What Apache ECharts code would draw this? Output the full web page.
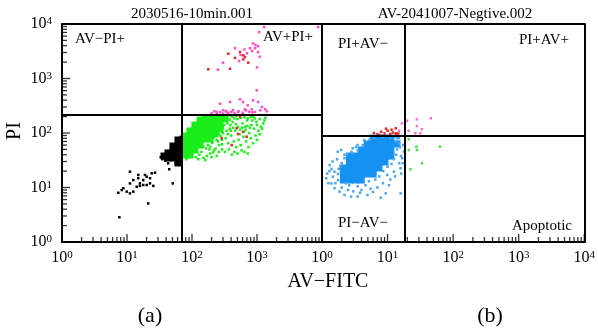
<!DOCTYPE html>
<html>
<head>
<meta charset="utf-8">
<script src="https://cdn.jsdelivr.net/npm/echarts@6/dist/echarts.min.js"></script>
<style>
  html, body { margin: 0; padding: 0; background: #fff; }
  #chart { width: 598px; height: 333px; }
</style>
</head>
<body>
<div id="chart"></div>
<script>
// ---- panel (a): 2030516-10min.001  [AV-FITC, PI] ----
var gateA = [69.5, 214];
var greenCoreA = [
  [78, 88.1], [78, 71.3], [78, 57.7], [78, 46.8], [78, 39.5],
  [93.1, 109], [93.1, 88.1], [93.1, 71.3], [93.1, 57.7], [93.1, 46.8], [93.1, 39.5],
  [111, 140], [111, 114], [111, 91.9], [111, 74.4], [111, 60.2], [111, 48.8],
  [133, 173], [133, 140], [133, 114], [133, 91.9], [133, 74.4], [133, 60.2],
  [158, 181], [158, 146], [158, 118], [158, 96], [158, 77.6],
  [189, 181], [189, 146], [189, 118], [189, 96], [189, 77.6],
  [226, 181], [226, 146], [226, 118], [226, 96],
  [270, 181], [270, 146], [270, 118],
  [322, 181]
];
var greenA = [
  [280, 170], [310, 140], [350, 190], [380, 120], [420, 160], [460, 110], [500, 180], [540, 95],
  [600, 150], [650, 130], [700, 170], [760, 100], [820, 140], [900, 120], [980, 160], [1100, 180],
  [1250, 150], [1350, 190], [300, 100], [330, 80], [360, 65], [400, 90], [440, 70], [480, 55],
  [520, 75], [560, 60], [620, 85], [680, 70], [740, 55], [800, 80], [870, 65], [950, 90],
  [1050, 110], [1150, 130], [260, 60], [290, 50], [320, 45], [370, 50], [410, 40], [450, 45],
  [500, 42], [580, 48], [640, 45], [720, 42], [390, 140], [430, 125], [470, 145], [510, 130],
  [550, 115], [590, 125], [630, 105], [670, 115], [710, 135], [780, 125], [850, 170], [920, 185],
  [1000, 140], [1200, 120], [1300, 170], [560, 190], [640, 195], [720, 185], [800, 195], [880, 200],
  [100, 38], [115, 36], [130, 40], [150, 35], [170, 38], [190, 42], [210, 44], [240, 38],
  [125, 33], [160, 32], [200, 36], [230, 52], [250, 70], [275, 88], [340, 110], [300, 195],
  [420, 200], [480, 205], [380, 175], [450, 185], [1100, 95], [1000, 75],
  [150, 56], [175, 60], [205, 66], [240, 75], [290, 62], [220, 48], [185, 50], [260, 95],
  [300, 125], [350, 150], [400, 205], [330, 170], [245, 130], [215, 82], [165, 52], [140, 45],
  [120, 45], [105, 52], [88, 36], [82, 33], [140, 155], [118, 125], [100, 100], [85, 98],
  [355, 95], [395, 110], [290, 75], [260, 45], [190, 56], [310, 205], [270, 200], [240, 190]
];
var blackCoreA = [
  [60.9, 74.4], [60.9, 57.7], [60.9, 44.8], [60.9, 34.8], [60.9, 28.2],
  [51, 57.7], [51, 44.8], [51, 34.8], [42.7, 43], [42.7, 34.8], [37.1, 37.8]
];
var blackA = [
  [11.1, 19.5], [14.9, 17], [18.9, 17], [24, 18.2], [27, 18.7], [11.1, 11.9], [12.5, 13.7],
  [15.8, 11.9], [17.8, 11.1], [20.1, 11.1], [22.6, 11.9], [25.4, 10.7], [14.1, 10.3], [15.8, 10.7],
  [8.8, 9.7], [8.3, 9.0], [9.9, 8.4], [7.35, 8.0], [11.1, 7.8], [12.5, 8.4], [17.8, 13.7],
  [22.6, 14.8], [20.1, 15.8], [14.9, 14.8], [43, 27.8], [44.6, 21.6], [50.5, 11.9], [21.2, 5.1],
  [7.63, 2.84], [36.3, 39.5], [40.6, 42.4], [47, 45], [52, 38], [55, 33], [58, 30], [64, 29],
  [48, 52], [55, 62], [63, 80], [67, 85], [56, 28], [45, 36], [33, 36], [35, 33], [39, 31]
];
var pinkA = [
  [1290, 8800], [8700, 8800], [1075, 7100], [870, 4400], [950, 4100], [1040, 3900], [780, 3600],
  [930, 3600], [840, 3200], [1040, 3050], [460, 3600], [1100, 2500], [1000, 1600], [300, 1950],
  [250, 1450], [530, 2100], [640, 3400], [700, 2900], [560, 2700],
  [270, 345], [384, 370], [548, 415], [610, 370], [720, 322], [870, 398], [1040, 370], [1190, 300],
  [990, 607], [1420, 250], [240, 243], [300, 261], [340, 243], [430, 261], [510, 243], [650, 272],
  [830, 272], [930, 243], [1120, 261], [1340, 272],
  [200, 230], [220, 250], [240, 225], [270, 240], [300, 228], [330, 255], [360, 235], [400, 245],
  [450, 230], [520, 250], [600, 235], [680, 260], [760, 245], [850, 240]
];
var redA = [
  [487, 122], [510, 96], [693, 85.5], [609, 105], [286, 80], [408, 60], [547, 199],
  [362, 2850], [548, 3060], [616, 2665], [653, 2480], [458, 2380], [384, 1510], [178, 1475],
  [735, 1950], [616, 2250]
];

// ---- panel (b): AV-2041007-Negtive.002 ----
var gateB = [18.1, 89.3];
var blueCoreB = [
  [6.03, 81], [7.42, 81], [9.14, 81], [11.25, 81],
  [4.89, 62.9], [6.03, 62.9], [7.42, 62.9], [9.14, 62.9], [11.25, 62.9], [13.9, 62.9],
  [3.97, 48.8], [4.89, 48.8], [6.03, 48.8], [7.42, 48.8], [9.14, 48.8], [11.25, 48.8],
  [2.62, 37.8], [3.22, 37.8], [3.97, 37.8], [4.89, 37.8], [6.03, 37.8], [7.42, 37.8], [9.14, 37.8], [11.25, 37.8],
  [2.62, 29.4], [3.22, 29.4], [3.97, 29.4], [4.89, 29.4], [6.03, 29.4], [7.42, 29.4], [9.14, 29.4],
  [2.12, 22.8], [2.62, 22.8], [3.22, 22.8], [3.97, 22.8], [4.89, 22.8], [6.03, 22.8], [7.42, 22.8],
  [2.12, 17.7], [2.62, 17.7], [3.22, 17.7], [3.97, 17.7], [4.89, 17.7], [6.03, 17.7],
  [2.12, 13.7], [2.62, 13.7], [3.22, 13.7], [3.97, 13.7]
];
var blueB = [
  [1.16, 14.8], [1.39, 11.9], [1.31, 25.9], [1.55, 9.7], [1.85, 8.4], [2.2, 7.3], [2.77, 6.8],
  [3.49, 6.8], [4.94, 7.3], [7.87, 6.5], [9.36, 7.8], [15.8, 7.8], [1.74, 45.4], [1.96, 48.8],
  [2.2, 34.4], [1.55, 19.5], [1.47, 15.8], [16.7, 34.4], [17.7, 45.4], [17.3, 60.2], [14.9, 80],
  [6.24, 80], [4.4, 74.4], [3.49, 60.2], [2.94, 52.4], [9.9, 17], [12.5, 19.5], [15.8, 22.5],
  [1.3, 20], [1.45, 30], [1.6, 12], [2.0, 10], [2.5, 9], [3, 8.5], [4, 9], [5.5, 9.5], [7, 10],
  [8.5, 12], [11, 14], [13, 16], [15, 28], [16, 38], [15.5, 55], [13.5, 70], [11, 82], [8.5, 85],
  [2.4, 40], [2.8, 45], [3.3, 55], [1.9, 25], [1.7, 33], [1.2, 18],
  [1.75, 17.7], [1.75, 13.7], [1.8, 22], [2.0, 28], [2.2, 40], [2.6, 11], [3.5, 10.5], [4.6, 11],
  [5.2, 13], [6.5, 14], [7.5, 16], [8.6, 20], [10, 24], [11.5, 27], [12.5, 33], [13.5, 40],
  [14, 50], [13.8, 80], [12.5, 84], [5.3, 75], [4.2, 60], [3.5, 48], [2.9, 43], [15, 65],
  [1.4, 22], [1.25, 12], [2.3, 12], [3.8, 8], [6, 8.3], [10.5, 11], [16.2, 18], [17, 28]
];
var redB = [
  [6.2, 100], [7, 95], [8, 105], [9, 98], [10, 110], [11, 96], [12, 102], [13.5, 97],
  [9.5, 120], [11.5, 115], [7.5, 92], [13.3, 98], [14.6, 98], [13.3, 122]
];
var pinkB = [
  [19.8, 168], [28, 178], [28, 134], [45.6, 186], [33.4, 117], [26.5, 99], [21, 110], [31.6, 99],
  [15, 110], [16.5, 150]
];
var greenB = [[21, 76.6], [27.5, 56], [63.2, 56], [21, 48.8], [28.1, 48.8], [33.4, 27.8], [22.3, 21.6]];

// axes: decades 10^0 .. 10^4 (log10 of the values)
var decades = [0, 1, 2, 3, 4];
var minorTicks = [];
decades.slice(0, 4).forEach(function (d) {
  for (var k = 2; k < 10; k++) minorTicks.push(Math.log10(k) + d);
});

var FONT = "'Liberation Serif', 'Times New Roman', serif";
var BLACK_LINE = { color: '#000', width: 2 };

function lg(arr) {
  return arr.map(function (p) { return [Math.log10(p[0]), Math.log10(p[1])]; });
}

function labelStyle(values, margin) {
  return {
    show: true, margin: margin, customValues: values,
    formatter: function (v) { return '{b|10}{s|' + v + '}'; },
    rich: {
      b: { fontFamily: FONT, fontSize: 16, color: '#000' },
      s: { fontFamily: FONT, fontSize: 11, color: '#000', verticalAlign: 'top' }
    }
  };
}

function axis(grid, pos, line, labels, margin) {
  return {
    type: 'value', gridIndex: grid, min: 0, max: 4, interval: 1, position: pos,
    axisLine: { show: line, onZero: false, lineStyle: BLACK_LINE },
    splitLine: { show: false },
    axisTick: { show: false },
    axisLabel: labels ? labelStyle(labels, margin) : { show: false }
  };
}

function dots(name, data, xi, yi, color, size) {
  return {
    name: name, type: 'scatter', xAxisIndex: xi, yAxisIndex: yi,
    data: lg(data), symbol: 'rect', symbolSize: size, silent: true,
    itemStyle: { color: color, opacity: 1 }
  };
}

// tick marks placed on the axis through the axis scale (plain axisTick doesn't draw here)
function ticks(values, xi, yi, vertical, len) {
  return {
    type: 'scatter', xAxisIndex: xi, yAxisIndex: yi, silent: true, clip: false, z: 4,
    symbol: 'rect',
    symbolSize: vertical ? [1.3, len] : [len, 1.3],
    symbolOffset: vertical ? [0, -len / 2] : [len / 2, 0],
    itemStyle: { color: '#000' },
    data: values.map(function (v) { return vertical ? [v, 0] : [0, v]; })
  };
}

function gateLines(gate) {
  return {
    silent: true, symbol: 'none', label: { show: false }, animation: false,
    lineStyle: { color: '#000', width: 2, type: 'solid' },
    data: [{ xAxis: Math.log10(gate[0]) }, { yAxis: Math.log10(gate[1]) }]
  };
}

function txt(text, x, y, size, align, rot) {
  return {
    type: 'text', x: x, y: y, rotation: rot || 0, silent: true,
    style: {
      text: text, font: size + 'px ' + FONT, fill: '#000',
      align: align || 'center', verticalAlign: 'middle',
      textAlign: align || 'center', textVerticalAlign: 'middle'
    }
  };
}

var sA = dots('greenCore', greenCoreA, 0, 0, '#1aee1a', 7);
sA.markLine = gateLines(gateA);
var sB = dots('blueCore', blueCoreB, 2, 2, '#1592f2', 7);
sB.markLine = gateLines(gateB);

var chart = echarts.init(document.getElementById('chart'), null, { renderer: 'canvas' });
chart.setOption({
  animation: false,
  backgroundColor: '#fff',
  grid: [
    { left: 62, top: 24, width: 260, height: 218 },
    { left: 322, top: 24, width: 265, height: 218 }
  ],
  xAxis: [
    axis(0, 'bottom', true, [0, 1, 2, 3], 8),
    axis(0, 'top', true),
    axis(1, 'bottom', true, decades, 8),
    axis(1, 'top', true)
  ],
  yAxis: [
    axis(0, 'left', true, decades, 10),
    axis(0, 'right', true),
    axis(1, 'left', true),
    axis(1, 'right', true)
  ],
  series: [
    sA,
    dots('green', greenA, 0, 0, '#1aee1a', 2.5),
    dots('blackCore', blackCoreA, 0, 0, '#000', 7),
    dots('black', blackA, 0, 0, '#000', 2.5),
    dots('pink', pinkA, 0, 0, '#ff4fc3', 2.5),
    dots('red', redA, 0, 0, '#e02828', 2.5),
    sB,
    dots('blue', blueB, 2, 2, '#4aa6ef', 2.5),
    dots('redB', redB, 2, 2, '#e02828', 2.5),
    dots('pinkB', pinkB, 2, 2, '#ff6fcf', 2.5),
    dots('greenB', greenB, 2, 2, '#4be04b', 2.5),
    ticks(decades, 0, 0, true, 8),
    ticks(minorTicks, 0, 0, true, 5),
    ticks(decades, 0, 0, false, 8),
    ticks(minorTicks, 0, 0, false, 5),
    ticks(decades, 2, 2, true, 8),
    ticks(minorTicks, 2, 2, true, 5)
  ],
  graphic: [
    txt('2030516-10min.001', 192, 14, 15),
    txt('AV-2041007-Negtive.002', 455, 14, 15),
    txt('PI', 15, 131, 20, 'center', Math.PI / 2),
    txt('AV\u2212FITC', 328, 282, 20),
    txt('(a)', 150, 316, 22),
    txt('(b)', 490, 316, 22),
    txt('AV\u2212PI+', 75, 39, 15, 'left'),
    txt('AV+PI+', 263, 37, 15, 'left'),
    txt('PI+AV\u2212', 338, 44, 15, 'left'),
    txt('PI+AV+', 519, 40, 15, 'left'),
    txt('PI\u2212AV\u2212', 338, 223, 15, 'left'),
    txt('Apoptotic', 512, 226, 15, 'left')
  ]
});
</script>
</body>
</html>
